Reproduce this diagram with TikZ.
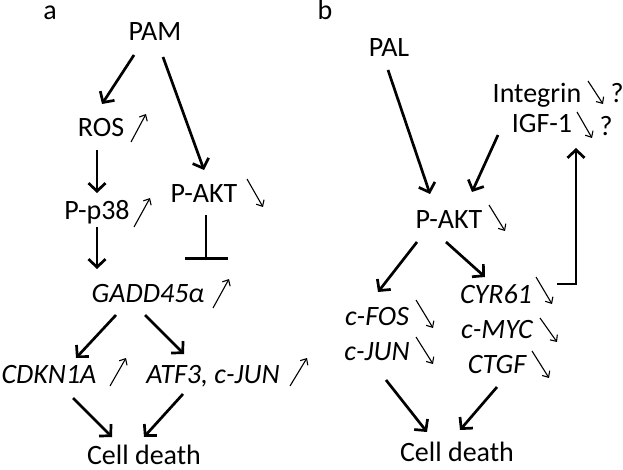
\documentclass[tikz,border=0pt]{standalone}
\usepackage{fontspec}
\setmainfont{Carlito}
\usetikzlibrary{arrows.meta}
\begin{document}
\begin{tikzpicture}[x=1pt,y=-1pt,
  lbl/.style={anchor=base,inner sep=0pt,font=\fontsize{28}{30}\selectfont},
  gene/.style={lbl,font=\fontsize{28}{30}\selectfont\itshape},
  arr/.style={line width=2.7pt,-{Straight Barb[length=8pt,width=17pt]}},
  inh/.style={line width=2.7pt,-{Bar[width=43pt]}},
  sm/.style={line width=1.1pt,-{Straight Barb[length=5pt,width=9pt]}}]
\useasboundingbox (0,0) rectangle (623,470);
% panel a
\node[lbl] (la) at (50,20) {a};
\node[lbl] (pam) at (155,41) {PAM};
\node[lbl] (ros) at (101,137) {ROS};
\node[lbl] (pp38) at (97,220) {P-p38};
\node[lbl] (akta) at (204,203) {P-AKT};
\node[gene] (gadd) at (148,302) {GADD45α};
\node[gene] (cdkn) at (49,383) {CDKN1A};
\node[gene] (atf) at (213,383) {ATF3, c-JUN};
\node[lbl] (cda) at (144,464) {Cell death};
% small arrows a
\draw[sm] (131,142) -- (146,114);
\draw[sm] (134,227) -- (150,198);
\draw[sm] (247,179) -- (263,207);
\draw[sm] (213,308) -- (229,279);
\draw[sm] (110,386) -- (126,358);
\draw[sm] (290,386) -- (307,358);
% connectors a
\coordinate (pam1) at (134,55); \coordinate (ros1) at (102,104);
\coordinate (pam2) at (163,57); \coordinate (akt1) at (204,170);
\coordinate (ros2) at (97,150); \coordinate (pp1) at (97,193);
\coordinate (pp2) at (97,227); \coordinate (gd1) at (97,269);
\coordinate (akt2) at (206,215); \coordinate (gd2) at (206,260);
\coordinate (gd3) at (116,315); \coordinate (cd1) at (76,358);
\coordinate (gd4) at (145,315); \coordinate (at1) at (184,354);
\coordinate (cd2) at (73,398); \coordinate (ce1) at (112,437);
\coordinate (at2) at (183,394); \coordinate (ce2) at (144,437);
\draw[arr] (pam1) -- (ros1);
\draw[arr] (pam2) -- (akt1);
\draw[arr] (ros2) -- (pp1);
\draw[arr] (pp2) -- (gd1);
\draw[inh] (akt2) -- (gd2);
\draw[arr] (gd3) -- (cd1);
\draw[arr] (gd4) -- (at1);
\draw[arr] (cd2) -- (ce1);
\draw[arr] (at2) -- (ce2);
% panel b
\node[lbl] (lb) at (325,20) {b};
\node[lbl] (pal) at (389,57) {PAL};
\node[lbl] (integ) at (537,103) {Integrin};
\node[lbl] (q1) at (617,103) {?};
\node[lbl] (igf) at (542,133) {IGF-1};
\node[lbl] (q2) at (606,136) {?};
\node[lbl] (aktb) at (449,229) {P-AKT};
\node[gene] (cyr) at (496,303) {CYR61};
\node[gene] (myc) at (497,338) {c-MYC};
\node[gene] (ctgf) at (497,373) {CTGF};
\node[gene] (fos) at (377,325) {c-FOS};
\node[gene] (jun) at (377,360) {c-JUN};
\node[lbl] (cdb) at (457,461) {Cell death};
% small arrows b
\draw[sm] (588,81) -- (603,104);
\draw[sm] (577,112) -- (592,138);
\draw[sm] (489,205) -- (505,231);
\draw[sm] (536,277) -- (552,304);
\draw[sm] (540,318) -- (557,342);
\draw[sm] (532,351) -- (549,378);
\draw[sm] (416,300) -- (433,328);
\draw[sm] (416,337) -- (433,364);
% connectors b
\coordinate (pal1) at (388,70); \coordinate (ak1) at (430,194);
\coordinate (igf1) at (498,135); \coordinate (ak2) at (472,192);
\coordinate (ak3) at (417,242); \coordinate (fo1) at (378,292);
\coordinate (ak4) at (446,242); \coordinate (cy1) at (485,277);
\coordinate (cy2) at (557,284); \coordinate (cyc) at (576,284);
\coordinate (ig2) at (576,148);
\coordinate (ju1) at (386,380); \coordinate (ce3) at (427,432);
\coordinate (ct1) at (497,387); \coordinate (ce4) at (460,430);
\draw[arr] (pal1) -- (ak1);
\draw[arr] (igf1) -- (ak2);
\draw[arr] (ak3) -- (fo1);
\draw[arr] (ak4) -- (cy1);
\draw[arr] (cy2) -- (cyc) -- (ig2);
\draw[arr] (ju1) -- (ce3);
\draw[arr] (ct1) -- (ce4);
\end{tikzpicture}
\end{document}
